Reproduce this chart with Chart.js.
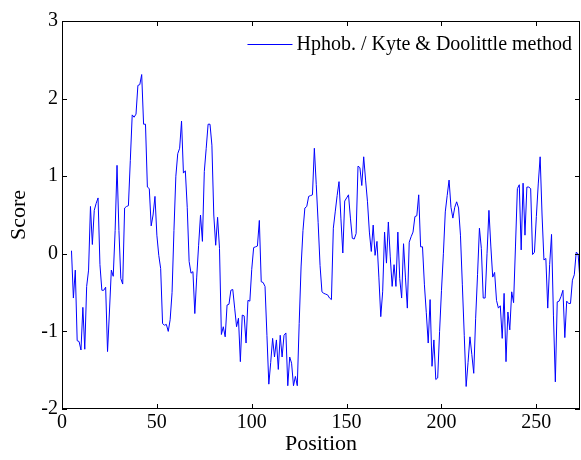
<!DOCTYPE html>
<html>
<head>
<meta charset="utf-8">
<script src="https://cdn.jsdelivr.net/npm/chart.js@4"></script>
<style>
  body { margin: 0; background: #fff; }
  #wrap { width: 581px; height: 460px; }
</style>
</head>
<body>
<div id="wrap"><canvas id="hphob-chart" width="581" height="460"></canvas></div>
<script>
// hydrophobicity profile, first window centre at position 5
const first_position = 5;
const scores = [
	0.04, -0.57, -0.21, -1.12, -1.13, -1.24, -0.69, -1.23, -0.42, -0.21,   // 5-14
	0.61, 0.12, 0.56, 0.65, 0.72, -0.14, -0.47, -0.47, -0.43, -1.26,       // 15-24
	-0.75, -0.21, -0.29, 0.3, 1.14, 0.3, -0.32, -0.39, 0.59, 0.61,         // 25-34
	0.62, 1.2, 1.79, 1.76, 1.8, 2.17, 2.18, 2.31, 1.67, 1.67,              // 35-44
	0.86, 0.84, 0.36, 0.5, 0.74, 0.24, -0.02, -0.19, -0.9, -0.92,          // 45-54
	-0.91, -1.0, -0.85, -0.5, 0.3, 1.0, 1.29, 1.36, 1.71, 1.04,            // 55-64
	1.07, 0.6, -0.1, -0.25, -0.23, -0.77, -0.3, 0.11, 0.5, 0.16,           // 65-74
	1.06, 1.36, 1.67, 1.67, 1.4, 0.5, 0.11, 0.47, 0.07, -1.04,             // 75-84
	-0.94, -1.07, -0.66, -0.65, -0.47, -0.46, -0.7, -0.94, -0.83, -1.39,   // 85-94
	-0.79, -0.8, -1.15, -0.6, -0.61, -0.2, 0.08, 0.09, 0.1, 0.43,          // 95-104
	-0.36, -0.37, -0.42, -1.05, -1.68, -1.4, -1.09, -1.33, -1.11, -1.49,   // 105-114
	-1.05, -1.33, -1.05, -1.02, -1.7, -1.33, -1.41, -1.7, -1.58, -1.7,     // 115-124
	-0.9, -0.17, 0.3, 0.59, 0.61, 0.74, 0.75, 0.76, 1.36, 0.89,            // 125-134
	0.4, -0.15, -0.49, -0.51, -0.52, -0.53, -0.57, -0.59, 0.33, 0.54,      // 135-144
	0.75, 0.93, 0.45, 0.01, 0.68, 0.72, 0.76, 0.46, 0.2, 0.19,             // 145-154
	0.26, 1.13, 1.11, 0.88, 1.25, 0.95, 0.67, 0.28, 0.03, 0.37,            // 155-164
	-0.02, 0.16, -0.3, -0.81, -0.49, 0.28, -0.12, 0.41, -0.04, -0.42,      // 165-174
	-0.14, -0.42, 0.28, -0.32, -0.57, 0.13, -0.3, -0.7, 0.15, 0.22,        // 175-184
	0.28, 0.48, 0.49, 0.76, 0.09, 0.09, -0.4, -0.76, -1.15, -0.59,         // 185-194
	-1.45, -1.11, -1.62, -1.6, -1.0, -0.47, 0.0, 0.54, 0.75, 0.95,         // 195-204
	0.6, 0.46, 0.6, 0.67, 0.59, 0.24, -0.4, -1.05, -1.71, -1.4,            // 205-214
	-1.07, -1.3, -1.54, -0.83, -0.27, 0.33, 0.07, -0.57, -0.57, 0.0,       // 215-224
	0.56, 0.1, -0.3, -0.24, -0.6, -0.7, -0.67, -1.09, -0.51, -1.39,        // 225-234
	-0.75, -0.98, -0.49, -0.63, 0.1, 0.84, 0.89, 0.05, 0.91, 0.24,         // 235-244
	0.86, 0.86, 0.84, -0.01, 0.02, 0.48, 0.9, 1.25, 0.5, -0.08,            // 245-254
	-0.06, -0.7, -0.14, 0.25, -0.79, -1.65, -0.62, -0.61, -0.55, -0.47,    // 255-264
	-1.08, -0.61, -0.64, -0.64, -0.34, -0.27, 0.02, 0.0, -0.35             // 265-273
];
const x_ticks = [0, 50, 100, 150, 200, 250];
const y_ticks = [-2, -1, 0, 1, 2, 3];
const x_range = [0, 273];
const y_range = [-2, 3];
const series_label = 'Hphob. / Kyte & Doolittle method';

const serif = "'Liberation Serif', 'Times New Roman', serif";

let points = scores.map((s, i) => ({ x: first_position + i, y: s }));

// matlab style box with inward ticks on all four sides
const matlabBox = {
	id: 'matlabBox',
	afterDraw(chart) {
		const { ctx, chartArea: a, scales } = chart;
		const len = 5;
		ctx.save();
		ctx.strokeStyle = '#000';
		ctx.lineWidth = 1;
		ctx.strokeRect(a.left + 0.5, a.top + 0.5, a.right - a.left - 1, a.bottom - a.top - 1);
		ctx.beginPath();
		x_ticks.forEach((t) => {
			let px = Math.round(scales.x.getPixelForValue(t)) + 0.5;
			ctx.moveTo(px, a.bottom); ctx.lineTo(px, a.bottom - len);
			ctx.moveTo(px, a.top); ctx.lineTo(px, a.top + len);
		});
		y_ticks.forEach((t) => {
			let py = Math.round(scales.y.getPixelForValue(t)) + 0.5;
			ctx.moveTo(a.left, py); ctx.lineTo(a.left + len, py);
			ctx.moveTo(a.right, py); ctx.lineTo(a.right - len, py);
		});
		ctx.stroke();
		ctx.restore();
	}
};

// legend inside the top right corner, no frame (legend boxoff)
const insideLegend = {
	id: 'insideLegend',
	afterDraw(chart) {
		const { ctx, chartArea: a } = chart;
		const ds = chart.data.datasets[0];
		ctx.save();
		ctx.font = '20px ' + serif;
		ctx.textBaseline = 'middle';
		ctx.fillStyle = '#000';
		let w = ctx.measureText(ds.label).width;
		let tx = a.right - 8 - w;
		let ty = a.top + 23;
		ctx.fillText(ds.label, tx, ty + 1);
		ctx.strokeStyle = ds.borderColor;
		ctx.lineWidth = 1;
		ctx.beginPath();
		ctx.moveTo(tx - 49, ty + 0.5);
		ctx.lineTo(tx - 4, ty + 0.5);
		ctx.stroke();
		ctx.restore();
	}
};

const ctx = document.getElementById('hphob-chart').getContext('2d');
new Chart(ctx, {
	type: 'line',
	data: {
		datasets: [{
			label: series_label,
			data: points,
			borderColor: '#0000ff',
			backgroundColor: '#0000ff',
			borderWidth: 1,
			pointRadius: 0,
			tension: 0,
			fill: false
		}]
	},
	options: {
		responsive: false,
		animation: false,
		layout: { padding: { top: 21, right: 1, left: 0, bottom: 0 } },
		plugins: {
			tooltip: { enabled: false },
			legend: { display: false }
		},
		scales: {
			x: {
				type: 'linear',
				min: x_range[0],
				max: x_range[1],
				afterBuildTicks: (scale) => { scale.ticks = x_ticks.map(v => ({ value: v })); },
				afterFit: (scale) => { scale.height = 51; },
				grid: { display: false, drawTicks: false },
				border: { display: false },
				ticks: { color: '#000', padding: 2, maxRotation: 0, font: { family: serif, size: 20 } },
				title: { display: true, text: 'Position', color: '#000', padding: { top: 0, bottom: 3 }, font: { family: serif, size: 22 } }
			},
			y: {
				min: y_range[0],
				max: y_range[1],
				afterBuildTicks: (scale) => { scale.ticks = y_ticks.map(v => ({ value: v })); },
				afterFit: (scale) => { scale.width = 62; },
				grid: { display: false, drawTicks: false },
				border: { display: false },
				ticks: { color: '#000', padding: 4, font: { family: serif, size: 20 } },
				title: { display: true, text: 'Score', color: '#000', padding: { top: 6, bottom: 0 }, font: { family: serif, size: 22 } }
			}
		}
	},
	plugins: [matlabBox, insideLegend]
});
</script>
</body>
</html>
